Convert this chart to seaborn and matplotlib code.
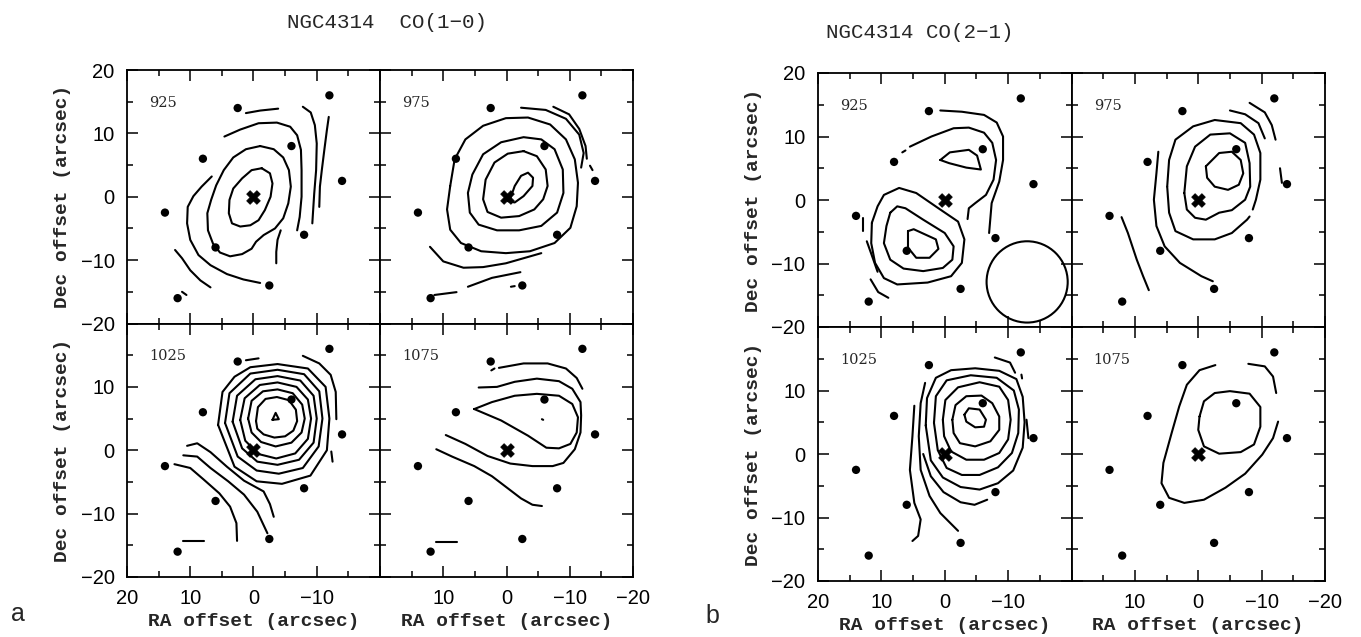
import numpy as np
import pandas as pd
import matplotlib
matplotlib.use("Agg")
import matplotlib.pyplot as plt
from matplotlib.patches import Circle
import seaborn as sns

# ---------------- data ----------------
# pointing positions (arcsec offsets)
point_ra = [2.5, -12, 8, -6, -14, 14, -8, 6, -2.5, 12]
point_dec = [14, 16, 6, 8, 2.5, -2.5, -6, -8, -14, -16]
center_ra = [0]
center_dec = [0]

velocities = ["925", "975", "1025", "1075"]
tick_values = [-20, -10, 0, 10, 20]

# contour traces (RA, Dec), one list per panel
co10_925 = [
    [(-1.3, 4.5), (-2.6, 3.7), (-3.0, 2.1), (-2.7, 0.0), (-1.8, -2.1), (-0.8, -3.7), (0.5, -4.5), (2.1, -4.7),
     (3.4, -4.2), (3.9, -2.6), (3.8, -0.5), (3.2, 1.3), (1.8, 2.9), (0.3, 4.2), (-1.3, 4.5)],
    [(-1.05, 8.0), (-3.2, 7.5), (-4.7, 6.2), (-5.6, 4.2), (-5.9, 1.6), (-5.5, -1.05), (-4.7, -3.4), (-3.4, -5.0),
     (-1.6, -6.05), (-0.4, -7.1), (0.3, -8.2), (1.8, -9.05), (3.7, -9.4), (5.3, -8.8), (6.4, -7.4), (7.2, -5.3),
     (7.3, -2.6), (6.7, -0.5), (5.9, 1.8), (4.7, 4.2), (3.2, 6.2), (1.2, 7.5), (-1.05, 8.0)],
    [(4.6, 9.5), (2.1, 10.6), (-0.8, 11.6), (-3.7, 11.7), (-5.8, 11.05), (-6.9, 9.7), (-7.5, 7.4), (-7.6, 4.2),
     (-7.6, 0.0), (-7.3, -3.2), (-6.9, -5.3)],
    [(6.6, 3.2), (8.2, 1.6), (9.5, 0.1), (10.4, -1.6), (10.5, -4.2), (10.0, -6.8), (8.7, -9.2), (6.8, -10.8),
     (4.2, -12.2), (1.6, -13.05), (-1.05, -13.6)],
    [(-4.3, -5.3), (-3.8, -6.8), (-3.6, -8.7), (-3.6, -10.5)],
    [(1.2, 13.2), (-1.05, 13.6), (-3.9, 13.9)],
    [(-7.8, 14.2), (-9.05, 13.3), (-9.7, 11.3), (-10.0, 8.4), (-9.9, 4.2), (-9.6, 0.5), (-9.4, -2.6), (-9.3, -4.2)],
    [(-11.9, 12.6), (-11.6, 10.5), (-11.2, 7.4), (-10.8, 4.2), (-10.5, 1.6), (-10.4, -1.6)],
    [(12.4, -8.4), (11.3, -9.7), (10.0, -11.6), (8.4, -13.2), (6.8, -14.3)],
    [(11.3, -15.0), (10.6, -15.5)],
]

co10_975 = [
    [(-0.56, -0.4), (-1.3, 1.7), (-2.3, 3.3), (-3.4, 3.8), (-4.2, 3.0), (-4.1, 1.7), (-2.7, 0.1), (-1.3, -0.9),
     (-0.2, -0.7), (-0.56, -0.4)],
    [(-2.7, 7.2), (-4.8, 6.4), (-6.2, 4.3), (-6.5, 1.7), (-5.8, -0.4), (-4.4, -2.0), (-2.0, -3.05), (0.85, -3.3),
     (3.0, -2.4), (3.7, -0.4), (3.3, 2.7), (1.9, 5.4), (-0.2, 6.8), (-2.7, 7.2)],
    [(6.1, 0.6), (5.8, -2.5), (4.4, -4.4), (1.5, -5.3), (-2.0, -5.3), (-5.5, -4.6), (-8.0, -2.5), (-9.0, 0.6),
     (-8.9, 4.3), (-7.6, 7.5), (-5.5, 9.05), (-2.7, 9.4), (0.85, 8.6), (3.7, 6.7), (5.4, 3.5), (6.1, 0.6)],
    [(8.9, 1.7), (9.4, -2.0), (8.9, -5.2), (7.2, -7.3), (4.0, -8.6), (0.1, -8.9), (-3.7, -8.6), (-7.6, -7.3),
     (-10.1, -4.9), (-11.1, -1.5), (-11.3, 2.2), (-10.8, 5.9), (-9.4, 9.05), (-6.9, 11.4), (-3.4, 12.5),
     (0.1, 12.4), (3.7, 11.2), (6.5, 9.05), (8.2, 5.9), (8.9, 1.7)],
    [(12.1, -7.9), (10.0, -10.2), (6.8, -11.2), (3.7, -11.1), (0.1, -10.5), (-5.5, -8.9)],
    [(-2.3, 14.05), (-6.2, 13.7), (-9.4, 12.3), (-11.5, 9.8), (-12.2, 6.9), (-11.8, 4.6)],
    [(-7.4, 14.2), (-9.9, 13.0), (-11.5, 10.7), (-12.5, 8.0), (-12.7, 6.0)],
    [(-13.2, 4.9), (-13.6, 4.2)],
    [(6.1, -14.2), (2.3, -12.8), (-2.2, -11.9)],
    [(11.4, -15.5), (7.9, -15.05)],
    [(-0.7, -14.2), (-1.3, -14.1)],
]

co10_1025 = [
    [(-3.0, 4.8), (-3.5, 5.9), (-4.0, 4.9), (-3.0, 4.8)],
    [(-0.4, 4.6), (-0.7, 6.8), (-1.9, 8.1), (-3.7, 8.4), (-5.6, 7.9), (-6.7, 6.4), (-6.9, 4.6), (-6.3, 3.1),
     (-5.0, 2.2), (-3.3, 2.0), (-1.6, 2.5), (-0.6, 3.4), (-0.4, 4.6)],
    [(0.85, 5.0), (0.3, 7.8), (-1.5, 9.3), (-3.8, 9.6), (-6.2, 9.0), (-7.7, 7.2), (-8.1, 5.0), (-7.6, 2.8),
     (-6.0, 1.2), (-3.5, 0.6), (-1.2, 1.3), (0.3, 2.8), (0.85, 5.0)],
    [(2.1, 4.8), (1.4, 8.2), (-1.0, 10.3), (-3.8, 10.7), (-6.8, 10.0), (-8.6, 8.0), (-9.1, 5.0), (-8.6, 1.8),
     (-6.6, -0.5), (-3.6, -1.3), (-0.8, -0.6), (1.3, 1.5), (2.1, 4.8)],
    [(3.3, 4.5), (2.6, 8.6), (-0.3, 11.2), (-3.8, 11.7), (-7.4, 11.0), (-9.5, 8.6), (-10.0, 5.0), (-9.5, 1.2),
     (-7.2, -1.5), (-3.8, -2.3), (-0.6, -1.8), (1.8, 0.3), (3.3, 4.5)],
    [(4.5, 4.3), (3.8, 9.0), (0.5, 12.1), (-3.8, 12.7), (-8.0, 12.0), (-10.4, 9.3), (-10.9, 5.0), (-10.3, 0.6),
     (-7.8, -2.8), (-4.0, -3.7), (-0.5, -3.2), (2.5, -1.0), (4.5, 4.3)],
    [(5.6, 4.0), (4.9, 9.2), (3.0, 11.6), (0.5, 13.1), (-3.8, 13.6), (-8.6, 12.9), (-11.4, 10.0), (-12.0, 5.0),
     (-11.6, 0.0), (-9.0, -4.0), (-4.5, -5.3), (-0.5, -4.9), (3.0, -2.6), (5.6, 4.0)],
    [(10.5, 0.7), (8.9, 1.1), (6.8, -0.3), (4.2, -2.6), (1.5, -4.8), (-1.6, -6.5), (-2.6, -8.5), (-3.2, -10.5)],
    [(11.1, -0.8), (8.9, -1.0), (6.8, -2.8), (4.0, -4.9), (1.5, -7.0), (-0.6, -9.7), (-2.2, -13.1)],
    [(12.5, -2.2), (10.0, -2.8), (7.9, -4.6), (5.4, -6.8), (3.7, -8.9), (2.7, -11.5), (2.6, -14.3)],
    [(-7.8, 14.9), (-10.4, 13.7), (-12.2, 11.9), (-13.0, 9.2), (-13.1, 4.9)],
    [(-12.3, -0.2), (-12.5, -1.8)],
    [(-7.7, -5.6), (-8.2, -6.1)],
    [(1.2, 14.2), (-0.8, 14.5)],
    [(11.2, -14.3), (7.9, -14.3)],
]

co10_1075 = [
    [(5.1, 6.5), (2.3, 7.6), (-1.3, 8.6), (-4.8, 8.9), (-8.3, 8.6), (-10.4, 7.3), (-11.3, 5.2), (-11.1, 2.8),
     (-10.1, 1.0), (-8.3, 0.3), (-6.3, 0.4), (-3.4, 2.3), (0.85, 4.7), (5.1, 6.5)],
    [(4.4, 9.9), (1.5, 10.0), (-1.3, 10.8), (-4.8, 11.3), (-8.3, 10.9), (-10.4, 9.7), (-11.7, 7.6), (-11.8, 5.5),
     (-11.7, 2.8), (-10.8, 0.16), (-9.0, -2.0), (-7.3, -2.5), (-4.1, -2.5), (-0.6, -2.1), (3.0, -0.9),
     (6.5, 1.0), (9.6, 2.4)],
    [(1.2, 13.0), (-2.7, 13.7), (-6.5, 13.7), (-9.4, 12.9), (-11.1, 11.4), (-12.0, 9.7)],
    [(2.4, 12.6), (1.9, 12.9)],
    [(11.1, 0.16), (8.6, -1.0), (5.1, -2.5), (2.3, -4.1), (-0.2, -6.0), (-2.3, -7.6), (-4.1, -8.6), (-5.6, -8.8)],
    [(11.1, -14.5), (7.9, -14.5)],
    [(-5.6, 4.9), (-5.8, 4.8)],
]

co21_925 = [
    [(0.7, 6.3), (-0.8, 7.5), (-3.8, 7.9), (-5.1, 7.0), (-5.7, 4.8), (-3.4, 5.1), (-0.7, 5.8), (0.7, 6.3)],
    [(5.8, -4.9), (4.9, -4.6), (1.4, -6.2), (1.0, -7.7), (2.4, -9.1), (4.5, -9.1), (5.8, -7.5), (5.8, -4.9)],
    [(8.6, -2.0), (7.5, -1.0), (6.2, -1.3), (3.4, -3.1), (0.0, -5.2), (-1.4, -7.3), (-1.2, -9.4), (0.3, -10.7),
     (3.4, -11.2), (6.5, -10.8), (8.6, -9.4), (9.6, -6.8), (9.2, -4.1), (8.6, -2.0)],
    [(11.5, -3.6), (10.6, -1.0), (9.6, 0.8), (7.2, 1.9), (4.5, 1.1), (1.0, -1.3), (-2.1, -3.4), (-3.1, -6.2),
     (-2.7, -9.9), (-1.0, -12.0), (2.7, -13.0), (7.5, -13.3), (9.6, -12.3), (11.0, -9.9), (11.6, -6.8),
     (11.5, -3.6)],
    [(5.5, 8.4), (2.1, 10.0), (-1.4, 11.3), (-3.8, 11.4), (-6.2, 10.6), (-7.5, 9.0), (-8.1, 6.3), (-7.7, 3.2),
     (-6.5, 0.8), (-4.8, -0.5), (-3.8, -1.3), (-3.6, -3.0)],
    [(6.7, 7.5), (6.2, 7.8)],
    [(0.7, 14.1), (-2.7, 13.9), (-6.2, 13.4), (-8.2, 12.2), (-9.2, 10.0), (-9.2, 6.3), (-8.6, 2.9), (-7.4, -0.5),
     (-7.0, -5.2)],
    [(12.9, -2.8), (12.9, -4.9)],
    [(12.3, -6.5), (11.3, -9.3), (10.6, -11.3)],
    [(11.7, -12.5), (10.5, -14.5), (8.9, -15.4)],
]

co21_975 = [
    [(-1.2, 5.3), (-3.3, 7.4), (-5.3, 7.6), (-6.7, 6.3), (-7.1, 4.2), (-6.4, 2.4), (-4.7, 1.6), (-2.6, 2.1),
     (-1.4, 3.5), (-1.2, 5.3)],
    [(2.2, 1.1), (1.8, 5.3), (0.5, 8.4), (-1.9, 10.3), (-5.0, 10.5), (-7.4, 9.0), (-8.1, 5.8), (-8.2, 2.1),
     (-7.4, 0.05), (-5.3, -1.6), (-3.3, -2.0), (-1.2, -3.1), (0.5, -2.8), (1.8, -1.5), (2.2, 1.1)],
    [(4.9, 2.1), (4.6, 6.3), (3.6, 9.5), (0.8, 11.6), (-2.6, 12.6), (-6.7, 12.1), (-8.8, 10.3), (-9.8, 7.4),
     (-9.8, 3.2), (-9.1, 0.05), (-8.6, -1.5)],
    [(-8.1, -2.6), (-7.7, -3.1), (-5.3, -5.2), (-2.6, -6.2), (0.8, -6.2), (3.6, -4.9), (4.6, -2.0), (4.9, 2.1)],
    [(6.3, 7.6), (6.6, 4.2), (7.0, 0.05), (6.6, -4.1), (5.3, -7.3), (2.9, -9.9), (-0.5, -12.0), (-2.3, -12.8)],
    [(-5.0, 14.1), (-7.4, 13.5), (-9.5, 12.1), (-10.5, 9.7)],
    [(-8.1, 15.3), (-10.5, 13.8), (-11.6, 11.8), (-12.2, 9.5)],
    [(-12.9, 5.0), (-13.2, 2.7)],
    [(12.1, -2.7), (11.1, -5.2), (9.7, -9.4), (8.7, -12.0), (7.8, -14.2)],
]

co21_1025 = [
    [(-3.1, 6.2), (-3.8, 7.2), (-5.5, 7.0), (-6.5, 5.4), (-6.2, 4.3), (-4.8, 4.2), (-3.4, 5.1), (-3.1, 6.2)],
    [(-1.2, 5.4), (-1.7, 7.7), (-3.4, 9.1), (-5.8, 9.2), (-7.5, 8.0), (-8.6, 5.9), (-8.6, 3.8), (-7.2, 2.0),
     (-4.8, 1.2), (-2.4, 1.7), (-1.4, 3.3), (-1.2, 5.4)],
    [(0.3, 5.4), (-0.1, 8.5), (-2.1, 10.5), (-5.5, 11.3), (-8.6, 10.6), (-10.0, 8.5), (-10.4, 5.4), (-10.0, 2.3),
     (-8.6, 0.16), (-6.2, -0.9), (-3.4, -0.9), (-1.0, 0.4), (0.1, 2.8), (0.3, 5.4)],
    [(1.7, 4.9), (1.4, 9.1), (-0.3, 11.6), (-4.1, 12.4), (-8.2, 12.0), (-10.9, 10.0), (-11.7, 7.0), (-11.6, 3.3),
     (-10.6, 0.16), (-8.4, -2.1), (-5.5, -3.3), (-2.7, -3.3), (-0.3, -2.2), (1.1, 0.6), (1.7, 4.9)],
    [(3.0, 4.5), (2.8, 8.8), (1.4, 12.0), (-1.0, 13.2), (-4.8, 13.5), (-8.6, 13.1), (-11.3, 11.8), (-12.3, 9.0),
     (-12.6, 5.0), (-12.3, 1.0), (-10.8, -2.6), (-8.4, -4.6), (-5.5, -5.6), (-2.5, -5.2), (0.3, -3.7),
     (2.2, -1.0), (3.0, 4.5)],
    [(-6.7, -7.2), (-4.7, -8.0), (-2.5, -7.6), (0.2, -6.0), (2.2, -3.5), (3.4, 0.0)],
    [(3.1, 11.2), (3.8, 8.0), (4.1, 2.8), (3.8, -2.5), (2.4, -6.6), (0.7, -9.3), (-2.1, -12.1)],
    [(4.8, 7.6), (5.1, 2.8), (5.5, -2.5), (4.8, -7.7), (3.8, -10.3), (4.2, -12.9), (5.1, -13.7)],
    [(-7.9, 15.2), (-10.3, 14.4), (-11.1, 12.8)],
    [(-12.1, 12.5), (-12.2, 11.9)],
    [(-12.9, 5.4), (-13.2, 2.5)],
]

co21_1075 = [
    [(-0.2, 5.9), (-0.9, 8.3), (-2.6, 9.6), (-5.0, 9.9), (-8.1, 9.5), (-9.8, 7.4), (-9.8, 4.3), (-8.8, 1.5),
     (-6.7, 0.3), (-3.3, 0.05), (-0.9, 1.2), (0.0, 3.8), (-0.2, 5.9)],
    [(-2.7, 14.0), (-0.2, 13.2), (1.8, 10.9), (3.0, 7.5), (4.2, 3.3), (5.5, -1.4), (5.8, -4.6), (4.6, -6.9),
     (2.2, -7.7), (-0.9, -7.2), (-4.3, -5.3), (-7.4, -3.1), (-10.1, -0.1), (-11.8, 2.5), (-12.6, 5.1)],
    [(-7.9, 14.2), (-10.5, 13.8), (-11.8, 12.2), (-12.3, 9.6)],
]

panels = {
    ("co10", "925"): co10_925, ("co10", "975"): co10_975,
    ("co10", "1025"): co10_1025, ("co10", "1075"): co10_1075,
    ("co21", "925"): co21_925, ("co21", "975"): co21_975,
    ("co21", "1025"): co21_1025, ("co21", "1075"): co21_1075,
}

beam_center = (-13.0, -12.9)
beam_radius = 6.4

# ---------------- style ----------------
sns.set_theme(style="ticks")
plt.rcParams["font.family"] = ["Liberation Sans", "DejaVu Sans"]
plt.rcParams["axes.unicode_minus"] = True

fig = plt.figure(figsize=(13.61, 6.37), dpi=100)
W, H = 1361.0, 637.0

groups = {
    "co10": dict(x0=127, y0=70, w=253, h=253.5),
    "co21": dict(x0=818, y0=73, w=253.5, h=254),
}
layout = {"925": (0, 0), "975": (0, 1), "1025": (1, 0), "1075": (1, 1)}

mono = ["Liberation Mono", "DejaVu Sans Mono"]

def fmt(v):
    return "0" if v == 0 else ("\u2212%d" % -v if v < 0 else "%d" % v)

for (grp, vel), traces in panels.items():
    g = groups[grp]
    r, c = layout[vel]
    left = (g["x0"] + c * g["w"]) / W
    bottom = 1 - (g["y0"] + (r + 1) * g["h"]) / H
    ax = fig.add_axes([left, bottom, g["w"] / W, g["h"] / H])

    rows = []
    for k, tr in enumerate(traces):
        for j, (x, y) in enumerate(tr):
            rows.append((k, j, x, y))
    df = pd.DataFrame(rows, columns=["seg", "order", "ra", "dec"])
    sns.lineplot(data=df, x="ra", y="dec", units="seg", estimator=None, sort=False,
                 color="black", linewidth=1.5, ax=ax, legend=False)

    sns.scatterplot(x=point_ra, y=point_dec, color="black", s=36, edgecolor="none", ax=ax, legend=False)
    sns.scatterplot(x=center_ra, y=center_dec, color="black", marker="X", s=95, edgecolor="black",
                    linewidth=0.6, ax=ax, legend=False)

    if grp == "co21" and vel == "925":
        ax.add_patch(Circle(beam_center, beam_radius, fill=False, lw=1.5, color="black"))

    ax.set_xlim(20, -20)
    ax.set_ylim(-20, 20)
    ax.set_xticks(tick_values)
    ax.set_yticks(tick_values)
    ax.set_xticks([-15, -5, 5, 15], minor=True)
    ax.set_yticks([-15, -5, 5, 15], minor=True)
    ax.tick_params(which="major", direction="in", length=8, width=1.1, top=True, right=True,
                   labelsize=14.5, pad=9, color="black", labelcolor="black")
    ax.tick_params(which="minor", direction="in", length=4, width=1.1, top=True, right=True, color="black")
    for s in ax.spines.values():
        s.set_linewidth(1.3)
        s.set_color("black")

    if r == 1:
        labs = [fmt(v) for v in tick_values]
        if c == 0:
            labs[0] = ""
        else:
            labs[-1] = ""
        ax.set_xticklabels(labs)
        ax.set_xlabel("RA offset (arcsec)", family=mono, fontweight="bold", fontsize=14, labelpad=3)
    else:
        ax.set_xticklabels([])
        ax.set_xlabel("")
    if c == 0:
        labs = [fmt(v) for v in tick_values]
        if r == 1:
            labs[-1] = ""
        ax.set_yticklabels(labs)
        ax.set_ylabel("Dec offset (arcsec)", family=mono, fontweight="bold", fontsize=14, labelpad=7)
    else:
        ax.set_yticklabels([])
        ax.set_ylabel("")

    ax.text(16.5, 14.8, vel, family=["DejaVu Serif"], fontsize=10.5, ha="left", va="center")

fig.text(387 / W, 1 - 22 / H, "NGC4314  CO(1\u22120)", family=mono, fontsize=15, ha="center", va="center")
fig.text(920 / W, 1 - 32 / H, "NGC4314 CO(2\u22121)", family=mono, fontsize=15, ha="center", va="center")
fig.text(18 / W, 1 - 614 / H, "a", fontsize=18, ha="center", va="center")
fig.text(712 / W, 1 - 616 / H, "b", fontsize=18, ha="center", va="center")

fig.savefig("out.png", dpi=100, facecolor="white")
